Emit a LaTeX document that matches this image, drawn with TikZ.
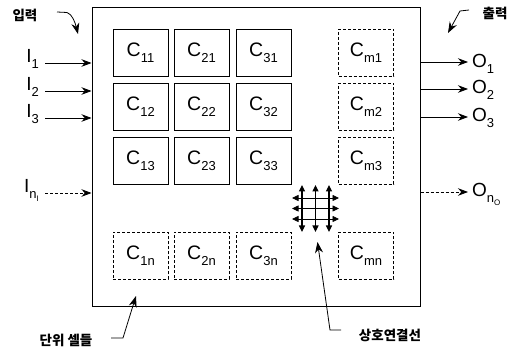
\documentclass[tikz,border=0pt]{standalone}
\usepackage{fontspec}
\setmainfont{Liberation Sans}
\newfontfamily\krfont{Noto Sans CJK KR}
\usetikzlibrary{arrows.meta}

% lowered indices for cell and signal names
\newcommand\lowidx[1]{\raisebox{-0.3em}{\fontsize{13}{13}\selectfont #1}}
\newcommand\lowidxx[1]{\raisebox{-0.25em}{\fontsize{8}{8}\selectfont #1}}

\tikzset{
  framebox/.style={draw, line width=1pt, minimum width=328pt, minimum height=299pt, inner sep=0pt},
  cell/.style={draw, line width=0.9pt, minimum width=55pt, minimum height=47pt, inner sep=0pt,
    font=\fontsize{19.5}{19.5}\selectfont},
  opencell/.style={cell, dash pattern=on 3pt off 2pt},
  sig/.style={-{Stealth[length=10pt,width=7.5pt]}, line width=0.8pt},
  sigdash/.style={sig, dash pattern=on 3pt off 2pt},
  ptr/.style={-{Stealth[length=11pt,width=8pt]}, line width=0.8pt},
  link/.style={{Triangle[length=6.5pt,width=6pt]}-{Triangle[length=6.5pt,width=6pt]}, line width=1.1pt},
  iolabel/.style={inner sep=0pt, font=\fontsize{19}{19}\selectfont},
  klabel/.style={inner sep=0pt, font=\krfont\bfseries\fontsize{13.5}{13.5}\selectfont},
}

\begin{document}
\begin{tikzpicture}[x=1pt,y=-1pt]
\useasboundingbox (0,0) rectangle (515,350);

% outer array boundary
\node[framebox] (outer) at (256,157.5) {};

% unit cells
\node[cell] (c11) at (140.5,52.5) {C\lowidx{11}};
\node[cell] (c21) at (201.5,52.5) {C\lowidx{21}};
\node[cell] (c31) at (263.5,52.5) {C\lowidx{31}};
\node[cell] (c12) at (140.5,106.5) {C\lowidx{12}};
\node[cell] (c22) at (201.5,106.5) {C\lowidx{22}};
\node[cell] (c32) at (263.5,106.5) {C\lowidx{32}};
\node[cell] (c13) at (140.5,160.5) {C\lowidx{13}};
\node[cell] (c23) at (201.5,160.5) {C\lowidx{23}};
\node[cell] (c33) at (263.5,160.5) {C\lowidx{33}};
\node[opencell] (cm1) at (366,52.5) {C\lowidx{m1}};
\node[opencell] (cm2) at (366,106.5) {C\lowidx{m2}};
\node[opencell] (cm3) at (366,160.5) {C\lowidx{m3}};
\node[opencell] (c1n) at (140.5,256) {C\lowidx{1n}};
\node[opencell] (c2n) at (201.5,256) {C\lowidx{2n}};
\node[opencell] (c3n) at (263.5,256) {C\lowidx{3n}};
\node[opencell] (cmn) at (366,256) {C\lowidx{mn}};

% inputs
\node[iolabel, anchor=base east] (i1) at (39,63) {I\lowidx{1}};
\node[iolabel, anchor=base east] (i2) at (39,91) {I\lowidx{2}};
\node[iolabel, anchor=base east] (i3) at (39,118) {I\lowidx{3}};
\node[iolabel, anchor=base east] (in) at (39,193) {I\lowidx{n\lowidxx{I}}};
\coordinate (a1) at (45,63);
\coordinate (a2) at (45,91);
\coordinate (a3) at (45,118);
\coordinate (an) at (45,193);
\draw[sig] (a1) -- (a1 -| outer.west);
\draw[sig] (a2) -- (a2 -| outer.west);
\draw[sig] (a3) -- (a3 -| outer.west);
\draw[sigdash] (an) -- (an -| outer.west);

% outputs
\node[iolabel, anchor=base west] (o1) at (472,67.5) {O\lowidx{1}};
\node[iolabel, anchor=base west] (o2) at (472,94) {O\lowidx{2}};
\node[iolabel, anchor=base west] (o3) at (472,122) {O\lowidx{3}};
\node[iolabel, anchor=base west] (on) at (472,197) {O\lowidx{n\lowidxx{O}}};
\coordinate (b1) at (468,62);
\coordinate (b2) at (468,89);
\coordinate (b3) at (468,117);
\coordinate (bn) at (468,192);
\draw[sig] (b1 -| outer.east) -- (b1);
\draw[sig] (b2 -| outer.east) -- (b2);
\draw[sig] (b3 -| outer.east) -- (b3);
\draw[sigdash] (bn -| outer.east) -- (bn);

% interconnection mesh
\coordinate (hub) at (315.5,208.5);
\foreach \dx in {-13.5,0,13.5}
  \draw[link] ([xshift=\dx pt, yshift=23.5pt]hub) -- ([xshift=\dx pt, yshift=-23.5pt]hub);
\foreach \dy in {-10.5,0,10.5}
  \draw[link, line width=0.8pt] ([xshift=-23.5pt, yshift=\dy pt]hub) -- ([xshift=23.5pt, yshift=\dy pt]hub);

% callout labels
\node[klabel] (lin) at (25,15) {입력};
\node[klabel] (lout) at (495,13) {출력};
\node[klabel] (lcells) at (66,340) {단위 셀들};
\node[klabel] (llinks) at (390,335) {상호연결선};

\coordinate (pin) at (57,12);
\draw[ptr] (pin) -- (67,12.5) .. controls (72,14) and (75,22) .. (78,34);
\coordinate (pout) at (469,10);
\draw[ptr] (pout) -- (460,11) -- (448,33);
\coordinate (pcells) at (111,338);
\draw[ptr] (pcells) -- (123,338) .. controls (127,325) and (131,312) .. (136,296);
\coordinate (plinks) at (341,330);
\draw[ptr] (plinks) -- (330,330) -- (317.5,242);
\end{tikzpicture}
\end{document}
